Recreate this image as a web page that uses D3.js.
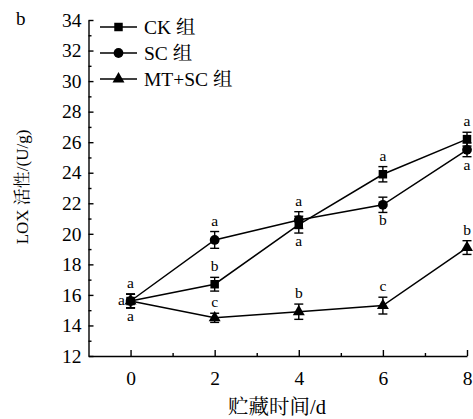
<!DOCTYPE html>
<html><head><meta charset="utf-8">
<script src="https://cdn.jsdelivr.net/npm/d3@7"></script>
<style>
body{margin:0;background:#fff;}
svg text{font-family:"Times New Roman","Liberation Serif","DejaVu Serif","Noto Serif CJK SC","Noto Sans CJK SC",serif !important;fill:#000;}
</style></head>
<body><svg id="c" width="473" height="419"></svg>
<script>
const days = [0, 2, 4, 6, 8];
const seriesNames = ["CK 组", "SC 组", "MT+SC 组"];
const ckValues = [15.6, 16.7, 20.6, 23.9, 26.2];
const scValues = [15.6, 19.6, 20.9, 21.9, 25.5];
const mtValues = [15.6, 14.5, 14.9, 15.3, 19.1];
const ckErr = [0.45, 0.45, 0.55, 0.5, 0.45];
const scErr = [0.45, 0.55, 0.55, 0.5, 0.45];
const mtErr = [0.45, 0.3, 0.5, 0.55, 0.45];
const ckLetters = ["a", "b", "a", "a", "a"];
const scLetters = ["a", "a", "a", "b", "a"];
const mtLetters = ["a", "c", "b", "c", "b"];
const ckLetterSide = ["above", "above", "below", "above", "above"];
const scLetterSide = ["left", "above", "above", "below", "below"];
const mtLetterSide = ["below", "above", "above", "above", "above"];
const yTicks = [12, 14, 16, 18, 20, 22, 24, 26, 28, 30, 32, 34];
const yMinorTicks = [13, 15, 17, 19, 21, 23, 25, 27, 29, 31, 33];
const xTicks = [0, 2, 4, 6, 8];
const xMinorTicks = [1, 3, 5, 7];
const xTitle = "贮藏时间/d";
const yTitle = "LOX 活性/(U/g)";
const panelLabel = "b";

const series = [
  {name: seriesNames[0], vals: ckValues, err: ckErr, letters: ckLetters, side: ckLetterSide, sym: d3.symbolSquare, size: 72},
  {name: seriesNames[1], vals: scValues, err: scErr, letters: scLetters, side: scLetterSide, sym: d3.symbolCircle, size: 75},
  {name: seriesNames[2], vals: mtValues, err: mtErr, letters: mtLetters, side: mtLetterSide, sym: d3.symbolTriangle, size: 62}
];

const FONT = '"Times New Roman","Liberation Serif","DejaVu Serif","Noto Serif CJK SC","Noto Sans CJK SC",serif';
const svg = d3.select("#c");
const x = d3.scaleLinear().domain([-1, 8]).range([88.5, 467]);
const y = d3.scaleLinear().domain([12, 34]).range([356, 20]);

function styleAxis(g){
  g.attr("font-family", FONT);
  g.selectAll("path,line").attr("stroke","#000").attr("stroke-width",1.4);
  g.selectAll("text").attr("font-family", FONT).style("font-size","19.5px");
}

// x axis
svg.append("g").attr("transform","translate(0,356)")
  .call(d3.axisBottom(x).tickValues(xTicks).tickSize(-6).tickSizeOuter(0).tickPadding(15).tickFormat(d3.format("d")))
  .call(styleAxis);
svg.append("g").attr("transform","translate(0,356)")
  .call(d3.axisBottom(x).tickValues(xMinorTicks).tickSize(-3).tickSizeOuter(0).tickFormat(""))
  .call(g=>g.select(".domain").remove()).call(styleAxis);
// y axis
svg.append("g").attr("transform","translate(88.5,0)")
  .call(d3.axisLeft(y).tickValues(yTicks).tickSize(-5).tickSizeOuter(0).tickPadding(7).tickFormat(d3.format("d")))
  .call(styleAxis);
svg.append("g").attr("transform","translate(88.5,0)")
  .call(d3.axisLeft(y).tickValues(yMinorTicks).tickSize(-3).tickSizeOuter(0).tickFormat(""))
  .call(g=>g.select(".domain").remove()).call(styleAxis);

// titles
svg.append("text").attr("x",277).attr("y",414).attr("text-anchor","middle").attr("font-family",FONT).style("font-size","20.5px").text(xTitle);
svg.append("text").attr("transform","translate(28,187) rotate(-90)").attr("text-anchor","middle").attr("font-family",FONT).style("font-size","17px").text(yTitle);
svg.append("text").attr("x",16).attr("y",25).attr("font-family",FONT).style("font-size","19px").text(panelLabel);

const line = d3.line().x((d,i)=>x(days[i])).y(d=>y(d));
series.forEach(s=>{
  const g = svg.append("g");
  g.append("path").attr("d", line(s.vals)).attr("fill","none").attr("stroke","#000").attr("stroke-width",1.5);
  s.vals.forEach((v,i)=>{
    const cx = x(days[i]), y1 = y(v + s.err[i]), y2 = y(v - s.err[i]);
    g.append("line").attr("x1",cx).attr("x2",cx).attr("y1",y1).attr("y2",y2).attr("stroke","#000").attr("stroke-width",1.4);
    [y1,y2].forEach(yy=>g.append("line").attr("x1",cx-4.5).attr("x2",cx+4.5).attr("y1",yy).attr("y2",yy).attr("stroke","#000").attr("stroke-width",1.4));
    g.append("path").attr("d", d3.symbol().type(s.sym).size(s.size)()).attr("transform",`translate(${cx},${y(v)})`).attr("fill","#000");
    const side = s.side[i];
    let tx = cx, ty;
    if (side === "above") ty = y1 - 6;
    else if (side === "below") ty = y2 + 13;
    else { tx = cx - 9; ty = y(v) + 4; }
    g.append("text").attr("x",tx).attr("y",ty).attr("text-anchor","middle").attr("font-family",FONT).style("font-size","15.5px").text(s.letters[i]);
  });
});

// legend
series.forEach((s,i)=>{
  const ly = 27 + i*26;
  svg.append("line").attr("x1",100).attr("x2",137).attr("y1",ly).attr("y2",ly).attr("stroke","#000").attr("stroke-width",1.5);
  svg.append("path").attr("d", d3.symbol().type(s.sym).size(s.size)()).attr("transform",`translate(118.5,${ly})`).attr("fill","#000");
  svg.append("text").attr("x",144).attr("y",ly+6.5).attr("font-family",FONT).style("font-size","19.5px").text(s.name);
});
</script></body></html>
